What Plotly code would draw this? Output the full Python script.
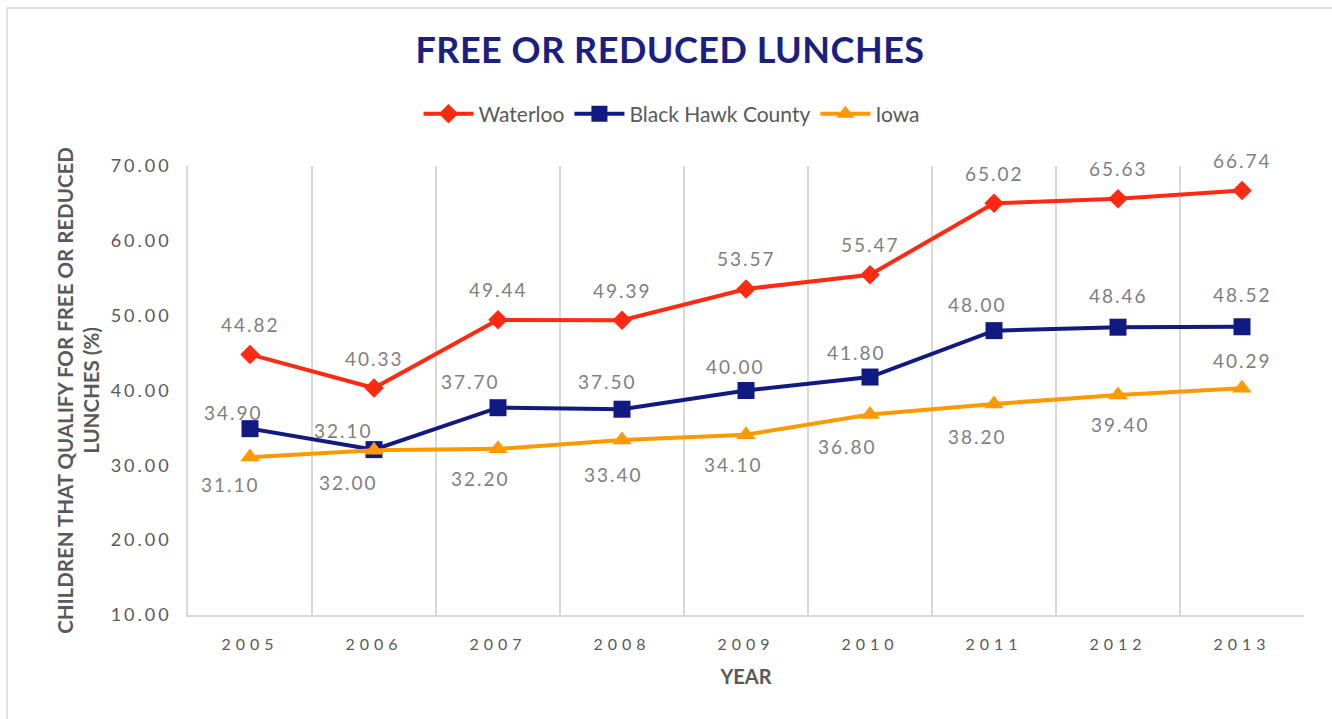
import plotly.graph_objects as go

# ---- data ----
years = ["2005", "2006", "2007", "2008", "2009", "2010", "2011", "2012", "2013"]
waterloo = [44.82, 40.33, 49.44, 49.39, 53.57, 55.47, 65.02, 65.63, 66.74]
black_hawk = [34.90, 32.10, 37.70, 37.50, 40.00, 41.80, 48.00, 48.46, 48.52]
iowa = [31.10, 32.00, 32.20, 33.40, 34.10, 36.80, 38.20, 39.40, 40.29]
y_ticks = [10, 20, 30, 40, 50, 60, 70]

# ---- label offsets (style, px) ----
wat_dx = [0, 0, 0, 0, 0, 0, 0, 0, 0]
wat_dy = [30, 30, 30, 30, 30, 30, 30, 30, 30]
bh_dx = [-17, -31, -28, -15, -11, -14, -17, 0, 0]
bh_dy = [16, 19, 26, 28, 24, 25, 26, 32, 32]
ia_dx = [-20, -26, -18, -9, -13, -23, -17, 2, 0]
ia_dy = [-27, -32, -30, -35, -30, -32, -33, -30, 28]

RED = "#FF2A12"
NAVY = "#111A80"
ORANGE = "#FF9900"
GRID = "#d9d9d9"
TXT = "#595959"
LBL = "#7f7f7f"
FONT = "Lato, 'Open Sans', sans-serif"

series = [
    ("Waterloo", waterloo, RED, "diamond", 15, wat_dx, wat_dy),
    ("Black Hawk County", black_hawk, NAVY, "square", 17, bh_dx, bh_dy),
    ("Iowa", iowa, ORANGE, "triangle-up", 17, ia_dx, ia_dy),
]

fig = go.Figure()
annotations = []
for name, vals, color, symbol, size, dxs, dys in series:
    fig.add_trace(go.Scatter(
        x=years, y=vals, name=name, mode="lines+markers",
        line=dict(color=color, width=4),
        marker=dict(symbol=symbol, size=size, color=color),
        cliponaxis=False,
    ))
    for i, (yv, dx, dy) in enumerate(zip(vals, dxs, dys)):
        annotations.append(dict(
            x=i, y=yv, xref="x", yref="y", text=f"{yv:.2f}",
            showarrow=False, xshift=dx, yshift=dy,
            xanchor="center", yanchor="middle",
            font=dict(family=FONT, size=19, color=LBL),
        ))

L, R, T, B = 188, 28, 166, 104
W, H = 1332, 719
pw, ph = W - L - R, H - T - B

fig.update_layout(
    width=W, height=H,
    margin=dict(l=L, r=R, t=T, b=B),
    paper_bgcolor="white", plot_bgcolor="white",
    title=dict(
        text="<b>FREE OR REDUCED LUNCHES</b>",
        x=670 / W, xanchor="center", y=1 - 50 / H, yanchor="middle",
        font=dict(family="'Liberation Sans Narrow', Lato, sans-serif",
                  size=36, color="#1B1F7F"),
    ),
    legend=dict(
        orientation="h", x=(672 - L) / pw, xanchor="center",
        y=(H - B - 114) / ph, yanchor="middle",
        font=dict(family=FONT, size=21, color=TXT),
        itemwidth=50,
        bgcolor="rgba(0,0,0,0)",
    ),
    showlegend=True,
    xaxis=dict(
        type="category", range=[-0.5, 8.5], tickson="boundaries",
        showgrid=True, gridcolor=GRID, gridwidth=1.5,
        showline=True, linecolor=GRID, linewidth=1.5,
        ticks="", ticklabelstandoff=14,
        tickfont=dict(family=FONT, size=16, color=TXT),
        title=dict(text="<b>YEAR</b>", standoff=18,
                   font=dict(family=FONT, size=20, color=TXT)),
        fixedrange=True,
    ),
    yaxis=dict(
        range=[10, 70], tickvals=y_ticks, tickformat=".2f",
        showgrid=False, zeroline=False,
        showline=True, linecolor=GRID, linewidth=1.5,
        ticks="", ticklabelstandoff=11,
        tickfont=dict(family=FONT, size=18, color=TXT),
        title=dict(text="<b>CHILDREN THAT QUALIFY FOR FREE OR REDUCED<br>LUNCHES (%)</b>",
                   standoff=20, font=dict(family=FONT, size=20.5, color=TXT)),
        fixedrange=True,
    ),
    shapes=[dict(
        type="rect", xref="paper", yref="paper",
        x0=(7 - L) / pw, x1=(W + 20 - L) / pw,
        y0=(H - B - (H + 20)) / ph, y1=(H - B - 8) / ph,
        line=dict(color=GRID, width=1.5), fillcolor="rgba(0,0,0,0)", layer="below",
    )],
)
fig.update_layout(annotations=annotations)

post = ("var s=document.createElement('style');"
        "s.textContent='body{margin:0} .xtick text{letter-spacing:5px} .ytick text{letter-spacing:3px} "
        ".gtitle{letter-spacing:0.5px} .annotation-text{letter-spacing:2px}';"
        "document.head.appendChild(s);")
fig.write_html("out.html", post_script=post, config={"displayModeBar": False})
